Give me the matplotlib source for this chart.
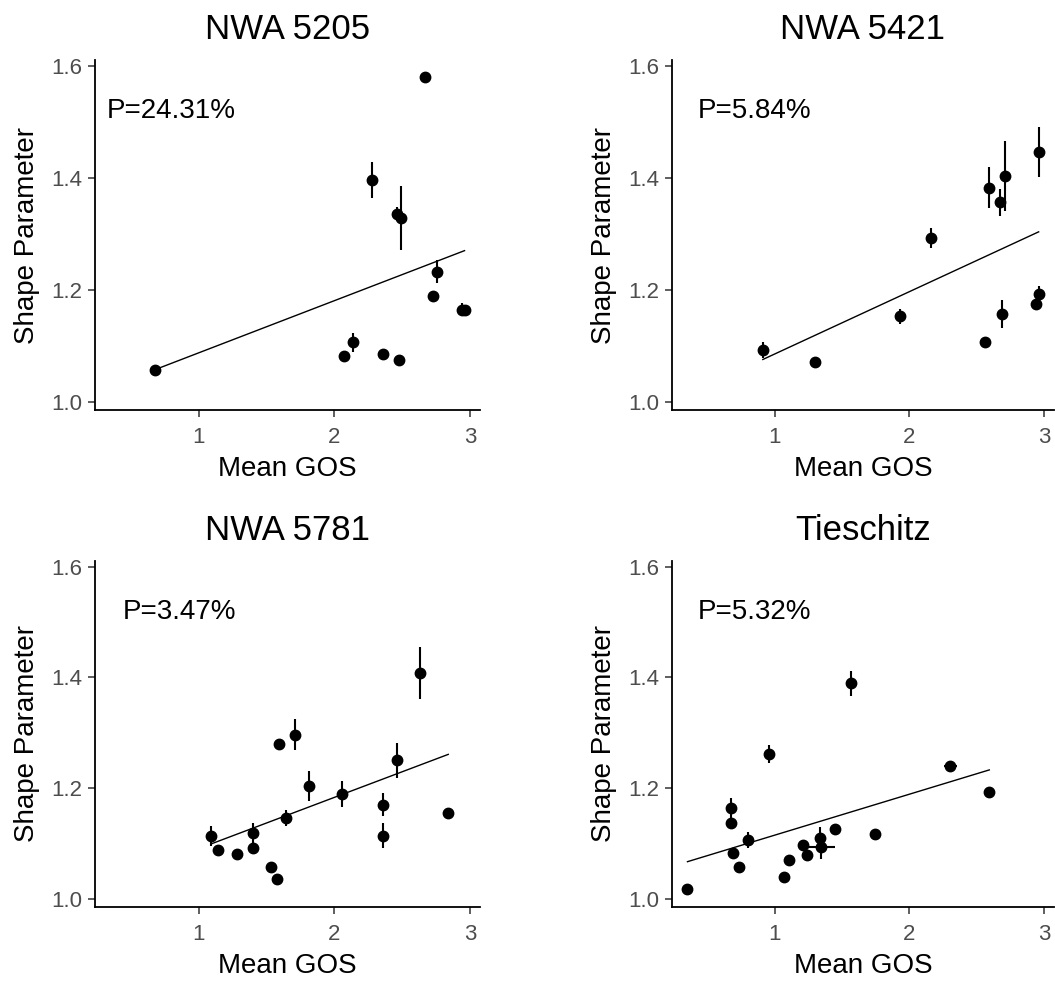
import matplotlib
matplotlib.use("Agg")
import matplotlib.pyplot as plt
import numpy as np

plt.rcParams['font.family'] = ['Liberation Sans', 'DejaVu Sans']

titles = ["NWA 5205", "NWA 5421", "NWA 5781", "Tieschitz"]
p_labels = ["P=24.31%", "P=5.84%", "P=3.47%", "P=5.32%"]

x1 = [0.68, 2.07, 2.14, 2.36, 2.48, 2.28, 2.46, 2.49, 2.67, 2.76, 2.73, 2.94, 2.96]
y1 = [1.057, 1.082, 1.106, 1.085, 1.074, 1.396, 1.335, 1.328, 1.579, 1.232, 1.188, 1.164, 1.164]
ye1 = [0.005, 0.008, 0.017, 0.008, 0.006, 0.032, 0.012, 0.057, 0.004, 0.020, 0.006, 0.012, 0.006]
xe1 = [0] * 13

x2 = [0.91, 1.30, 1.93, 2.16, 2.56, 2.59, 2.67, 2.71, 2.69, 2.96, 2.96, 2.94]
y2 = [1.092, 1.070, 1.152, 1.292, 1.106, 1.382, 1.356, 1.403, 1.157, 1.446, 1.192, 1.174]
ye2 = [0.014, 0.006, 0.014, 0.018, 0.005, 0.037, 0.024, 0.062, 0.025, 0.045, 0.015, 0.005]
xe2 = [0] * 12

x3 = [1.09, 1.14, 1.28, 1.40, 1.40, 1.53, 1.58, 1.59, 1.71, 1.64, 1.81, 2.06, 2.36, 2.36, 2.46, 2.63, 2.84]
y3 = [1.114, 1.088, 1.081, 1.118, 1.092, 1.057, 1.035, 1.279, 1.296, 1.146, 1.203, 1.189, 1.170, 1.114, 1.250, 1.407, 1.154]
ye3 = [0.018, 0.005, 0.005, 0.018, 0.010, 0.004, 0.004, 0.005, 0.028, 0.014, 0.027, 0.023, 0.021, 0.023, 0.032, 0.047, 0.006]
xe3 = [0, 0, 0, 0, 0, 0, 0, 0, 0, 0, 0, 0, 0, 0, 0, 0.03, 0.03]

x4 = [0.35, 0.674, 0.674, 0.689, 0.736, 0.798, 0.953, 1.064, 1.104, 1.21, 1.24, 1.333, 1.346, 1.444, 1.565, 1.746, 2.304, 2.593]
y4 = [1.018, 1.164, 1.136, 1.082, 1.057, 1.106, 1.261, 1.039, 1.070, 1.097, 1.079, 1.110, 1.093, 1.125, 1.389, 1.117, 1.239, 1.192]
ye4 = [0.004, 0.018, 0.010, 0.006, 0.005, 0.015, 0.016, 0.004, 0.005, 0.006, 0.006, 0.020, 0.022, 0.008, 0.022, 0.004, 0.010, 0.006]
xe4 = [0, 0, 0, 0, 0, 0.03, 0, 0, 0, 0, 0.03, 0, 0.10, 0, 0.04, 0, 0.05, 0]

fit_slope = [0.0931, 0.1112, 0.0925, 0.0739]
fit_intercept = [0.994, 0.974, 0.998, 1.041]

panels = [(x1, y1, ye1, xe1), (x2, y2, ye2, xe2), (x3, y3, ye3, xe3), (x4, y4, ye4, xe4)]

W, H = 1055, 984
fig = plt.figure(figsize=(W / 100, H / 100), dpi=100)

# axes rectangles in pixels: left, right, top, bottom
rects = [(95, 480, 60, 410), (672, 1054, 60, 410), (95, 480, 561, 907), (672, 1054, 561, 907)]
p_pos = [(0.031, 0.855), (0.068, 0.853), (0.073, 0.852), (0.068, 0.852)]

for i, (x, y, ye, xe) in enumerate(panels):
    l, r, t, b = rects[i]
    ax = fig.add_axes([l / W, 1 - b / H, (r - l) / W, (b - t) / H])
    ax.errorbar(x, y, yerr=ye, xerr=xe, fmt='o', color='black', ms=7.5,
                elinewidth=1.5, capsize=0, zorder=3)
    xs = np.array([min(x), max(x)])
    ax.plot(xs, fit_intercept[i] + fit_slope[i] * xs, color='black', lw=1.0, zorder=2)
    ax.set_xlim(0.235, 3.074)
    ax.set_ylim(0.985, 1.61)
    ax.set_xticks([1, 2, 3])
    ax.set_yticks([1.0, 1.2, 1.4, 1.6])
    ax.set_yticklabels(["1.0", "1.2", "1.4", "1.6"])
    for s in ['top', 'right']:
        ax.spines[s].set_visible(False)
    for s in ['left', 'bottom']:
        ax.spines[s].set_linewidth(1.3)
        ax.spines[s].set_color('black')
    ax.tick_params(axis='both', direction='out', length=5, width=1.1, color='#333333',
                   labelsize=16, labelcolor='#4D4D4D')
    ax.tick_params(axis='x', pad=7)
    ax.tick_params(axis='y', pad=4)
    ax.set_xlabel("Mean GOS", fontsize=20, labelpad=6)
    ax.set_ylabel("Shape Parameter", fontsize=20, labelpad=8)
    ax.set_title(titles[i], fontsize=25, pad=15)
    ax.text(p_pos[i][0], p_pos[i][1], p_labels[i], transform=ax.transAxes,
            fontsize=20, ha='left', va='center', color='black')

fig.savefig("out.png", dpi=100)
